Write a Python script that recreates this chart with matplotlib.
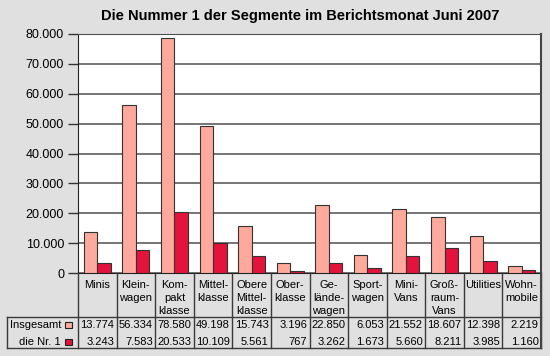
import numpy as np
import matplotlib.pyplot as plt
from matplotlib.patches import Rectangle
from matplotlib.ticker import FuncFormatter

plt.rcParams['font.family'] = ['Liberation Sans', 'DejaVu Sans']

categories = ["Minis", "Klein-\nwagen", "Kom-\npakt\nklasse", "Mittel-\nklasse",
              "Obere\nMittel-\nklasse", "Ober-\nklasse", "Ge-\nlände-\nwagen",
              "Sport-\nwagen", "Mini-\nVans", "Groß-\nraum-\nVans", "Utilities",
              "Wohn-\nmobile"]
insgesamt = [13774, 56334, 78580, 49198, 15743, 3196, 22850, 6053, 21552, 18607, 12398, 2219]
nr1 = [3243, 7583, 20533, 10109, 5561, 767, 3262, 1673, 5660, 8211, 3985, 1160]
series_names = ["Insgesamt", "die Nr. 1"]

bg = '#e0e0e0'
c_total = '#ffa99c'
c_nr1 = '#e3133c'
edge = '#333333'
grid = '#505050'

def de(v):
    return f"{v:,.0f}".replace(',', '.')

W, H = 550, 356
fig = plt.figure(figsize=(5.5, 3.56), dpi=100, facecolor=bg)

# plot area in pixels
pl, pr, pt, pb = 78, 541, 34, 273
ax = fig.add_axes([pl / W, 1 - pb / H, (pr - pl) / W, (pb - pt) / H])
ax.set_facecolor('white')
x = np.arange(len(categories))
bw = 0.35
ax.bar(x - bw / 2, insgesamt, bw, color=c_total, edgecolor=edge, lw=0.8, zorder=3)
ax.bar(x + bw / 2, nr1, bw, color=c_nr1, edgecolor=edge, lw=0.8, zorder=3)
ax.set_xlim(-0.5, len(categories) - 0.5)
ax.set_ylim(0, 80000)
ax.set_yticks(np.arange(0, 80001, 10000))
ax.yaxis.set_major_formatter(FuncFormatter(lambda v, p: de(v)))
ax.set_xticks([])
ax.tick_params(axis='y', length=7, width=1, color='#333333', labelsize=9, pad=3)
ax.grid(axis='y', color=grid, lw=1.1, zorder=1)
ax.spines['left'].set_color('#222222')
ax.spines['bottom'].set_color('#222222')
ax.spines['top'].set_color(grid)
ax.spines['right'].set_color('#444444')
ax.spines['right'].set_linewidth(1.5)

fig.text(300 / W, 1 - 16 / H, "Die Nummer 1 der Segmente im Berichtsmonat Juni 2007",
         ha='center', va='center', fontsize=10.5, fontweight='bold')

# data table below the chart, x in category units, y in pixels from axis line
tl, tb = 7, 348
col_w = (pr - pl) / len(categories)
def px(xp):
    return (xp - pl) / col_w - 0.5

tax = fig.add_axes([tl / W, 1 - tb / H, (pr - tl) / W, (tb - pb) / H])
tax.set_xlim(px(tl), px(pr))
tax.set_ylim(tb - pb, 0)
tax.axis('off')
lc = '#3a3a3a'
row1 = 317 - pb
for b in np.arange(-0.5, len(categories), 1.0):
    tax.plot([b, b], [0, tb - pb], color=lc, lw=1, clip_on=False)
tax.plot([px(tl), px(tl)], [row1, tb - pb], color=lc, lw=1, clip_on=False)
tax.plot([px(tl), px(pr)], [row1, row1], color=lc, lw=1, clip_on=False)
tax.plot([px(tl), px(pr)], [tb - pb, tb - pb], color=lc, lw=1, clip_on=False)
tax.plot([px(pr), px(pr)], [0, tb - pb], color='#444444', lw=1.5, clip_on=False)

for i, c in enumerate(categories):
    tax.text(i, 7, c, ha='center', va='top', fontsize=8, linespacing=1.35)

rows = [insgesamt, nr1]
colors = [c_total, c_nr1]
for r, (vals, name, col) in enumerate(zip(rows, series_names, colors)):
    yc = 325 - pb + r * 17
    for i, v in enumerate(vals):
        tax.text(i + 0.5 - 0.06, yc, de(v), ha='right', va='center', fontsize=8)
    tax.text(px(61), yc, name, ha='right', va='center', fontsize=8)
    tax.add_patch(Rectangle((px(65), yc - 3), px(72) - px(65), 6,
                            facecolor=col, edgecolor='#222222', lw=0.8, clip_on=False))

fig.savefig('out.png', dpi=100, facecolor=bg)
